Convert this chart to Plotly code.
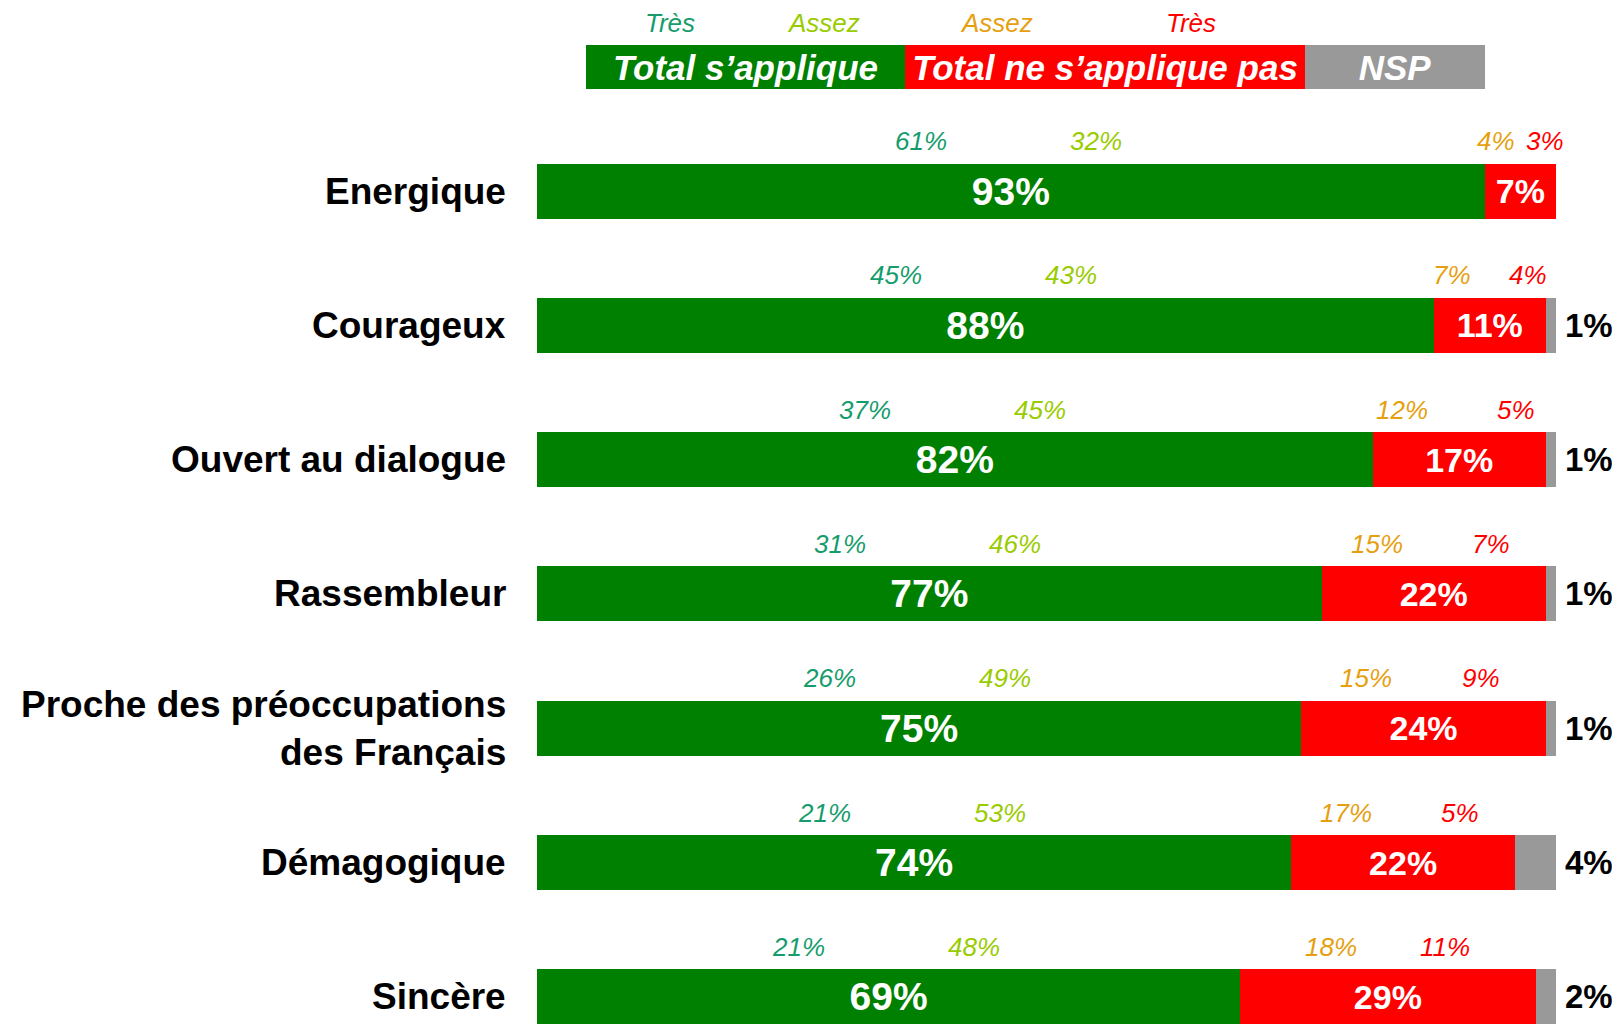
import plotly.graph_objects as go

CATEGORIES = [
    "Energique",
    "Courageux",
    "Ouvert au dialogue",
    "Rassembleur",
    "Proche des préoccupations<br>des Français",
    "Démagogique",
    "Sincère",
]
TRES_APPLIQUE = [61, 45, 37, 31, 26, 21, 21]
ASSEZ_APPLIQUE = [32, 43, 45, 46, 49, 53, 48]
TOTAL_APPLIQUE = [93, 88, 82, 77, 75, 74, 69]
ASSEZ_PAS = [4, 7, 12, 15, 15, 17, 18]
TRES_PAS = [3, 4, 5, 7, 9, 5, 11]
TOTAL_PAS = [7, 11, 17, 22, 24, 22, 29]
NSP = [0, 1, 1, 1, 1, 4, 2]

GREEN = "#008000"
RED = "#FF0000"
GREY = "#999999"
C_TRES_APP = "#169C6C"
C_ASSEZ_APP = "#99CC00"
C_ASSEZ_PAS = "#E69F10"
C_TRES_PAS = "#FF0000"
FONT = "Liberation Sans, Arial, sans-serif"

W, H = 1620, 1025
OFF = 8  # page body margin, compensated so the plot sits where the reference has it
PLOT_L, PLOT_R, PLOT_T, PLOT_B = 537, 1556, 100, 1025  # in page pixels
ROW_PX = 134.33
BAR_PX = 55

rows = list(range(len(CATEGORIES)))
plot_h = PLOT_B - PLOT_T
y_top = -(191 - PLOT_T) / ROW_PX
y_bot = y_top + plot_h / ROW_PX


def px_x(px):
    return (px - PLOT_L) / (PLOT_R - PLOT_L)


def px_y(py):
    return (PLOT_B - py) / plot_h


fig = go.Figure()
for name, vals, color, size in [
    ("Total s’applique", TOTAL_APPLIQUE, GREEN, 39),
    ("Total ne s’applique pas", TOTAL_PAS, RED, 34),
    ("NSP", NSP, GREY, 30),
]:
    fig.add_trace(
        go.Bar(
            name=name,
            x=vals,
            y=rows,
            orientation="h",
            width=BAR_PX / ROW_PX,
            marker=dict(color=color, line=dict(width=0)),
            text=[f"{v}%" if name != "NSP" else "" for v in vals],
            textposition="inside",
            insidetextanchor="middle",
            constraintext="none",
            textfont=dict(family=FONT, size=size, color="white", weight="bold"),
            hoverinfo="skip",
        )
    )

ann = []
for i in rows:
    # category label
    ann.append(dict(
        x=0, xref="paper", y=i, yref="y", xanchor="right", yanchor="middle", xshift=-29,
        text=CATEGORIES[i], showarrow=False, align="right",
        font=dict(family=FONT, size=37, color="black", weight="bold"),
    ))
    # italic detail labels above the bar
    g_mid = TOTAL_APPLIQUE[i] / 2
    r_w = TOTAL_PAS[i]
    r_mid = TOTAL_APPLIQUE[i] + r_w / 2
    r_off = min(0.34 * r_w, 5.6)
    for xv, val, col in [
        (g_mid - 8.8, TRES_APPLIQUE[i], C_TRES_APP),
        (g_mid + 8.4, ASSEZ_APPLIQUE[i], C_ASSEZ_APP),
        (r_mid - r_off, ASSEZ_PAS[i], C_ASSEZ_PAS),
        (r_mid + r_off, TRES_PAS[i], C_TRES_PAS),
    ]:
        ann.append(dict(
            x=xv, y=i, xref="x", yref="y", yshift=50, showarrow=False,
            xanchor="center", yanchor="middle",
            text=f"{val}%", font=dict(family=FONT, size=26, color=col, style="italic"),
        ))
    # NSP label on the right
    if NSP[i] > 0:
        ann.append(dict(
            x=TOTAL_APPLIQUE[i] + TOTAL_PAS[i] + NSP[i], y=i, xref="x", yref="y",
            xanchor="left", yanchor="middle", xshift=7, showarrow=False, text=f"{NSP[i]}%",
            font=dict(family=FONT, size=33, color="black", weight="bold"),
        ))

# header legend boxes
for text, left, right, col in [
    ("Total s’applique", 586, 905, GREEN),
    ("Total ne s’applique pas", 905, 1305, RED),
    ("NSP", 1305, 1485, GREY),
]:
    ann.append(dict(
        x=px_x(left), y=px_y(67), xref="paper", yref="paper",
        xanchor="left", yanchor="middle", width=right - left, height=44,
        bgcolor=col, borderpad=0, borderwidth=0, showarrow=False, align="center",
        valign="middle", text=text,
        font=dict(family=FONT, size=35, color="white", weight="bold", style="italic"),
    ))
for text, px, col in [
    ("Très", 670, C_TRES_APP),
    ("Assez", 823, C_ASSEZ_APP),
    ("Assez", 996, C_ASSEZ_PAS),
    ("Très", 1191, C_TRES_PAS),
]:
    ann.append(dict(
        x=px_x(px), y=px_y(23), xref="paper", yref="paper", showarrow=False,
        xanchor="center", yanchor="middle",
        text=text, font=dict(family=FONT, size=26, color=col, style="italic"),
    ))

fig.update_layout(
    width=W,
    height=H,
    barmode="stack",
    showlegend=False,
    paper_bgcolor="white",
    plot_bgcolor="white",
    margin=dict(
        l=PLOT_L - OFF, r=W - (PLOT_R - OFF), t=PLOT_T - OFF, b=H - (PLOT_B - OFF),
        autoexpand=False,
    ),
    xaxis=dict(range=[0, 100], visible=False, fixedrange=True),
    yaxis=dict(range=[y_bot, y_top], visible=False, fixedrange=True),
    annotations=ann,
)

fig.write_html("out.html", config={"displayModeBar": False})
